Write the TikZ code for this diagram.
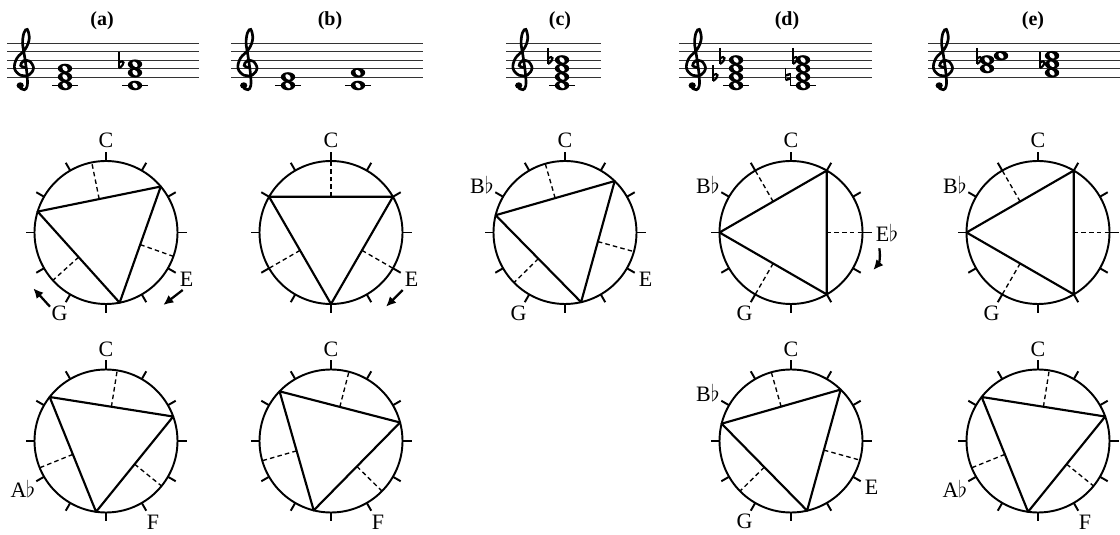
\documentclass[tikz,border=0pt]{standalone}
\usepackage{fontspec}
\setmainfont{Liberation Serif}
\usetikzlibrary{arrows.meta, calc}
\tikzset{rim/.style={line width=1.45pt},tri/.style={line width=1.6pt,line join=round},perp/.style={line width=1pt,dash pattern=on 3.4pt off 2.4pt},
  stave/.style={line width=0.65pt,black!80},pc/.style={font=\fontsize{16.5}{16.5}\selectfont,inner sep=0pt},
  title/.style={font=\fontsize{15}{15}\selectfont\bfseries,inner sep=0pt},move/.style={line width=1.7pt,-{Latex[length=7.5pt,width=7pt]}}}
% pitch-class clock: name, centre, three corner angles (clockwise from C)
\newcommand\pcclock[5]{%
  \begin{scope}[shift={#2}]
  \coordinate (#1) at (0,0);
  \draw[rim] (0,0) circle (71.5);
  \foreach \k in {0,...,11} \draw[rim] ({90-30*\k}:71.5) -- ({90-30*\k}:80.5);
  \coordinate (#1-v1) at ({90-(#3)}:71.5);
  \coordinate (#1-v2) at ({90-(#4)}:71.5);
  \coordinate (#1-v3) at ({90-(#5)}:71.5);
  \draw[perp] ($(#1-v1)!0.5!(#1-v2)$) -- ({90-(#3+#4)/2}:71.5);
  \draw[perp] ($(#1-v2)!0.5!(#1-v3)$) -- ({90-(#4+#5)/2}:71.5);
  \draw[perp] ($(#1-v3)!0.5!(#1-v1)$) -- ({90-(#5+#3+360)/2}:71.5);
  \draw[tri] (#1-v1) -- (#1-v2) -- (#1-v3) -- cycle;
  \end{scope}}
% staff pieces (step 0 = E on the bottom line)
\newcommand\stave[2]{\foreach \s in {0,...,4} \draw[stave] (#1,{458+8.5*\s}) -- (#2,{458+8.5*\s});}
\newcommand\wnote[2]{\begin{scope}[shift={(#1,{458+4.25*(#2)})}]
  \fill (0,0) ellipse (7.2 and 4.8); \fill[white,rotate=40] (0,0) ellipse (2.1 and 3.3);\end{scope}}
\newcommand\ledger[1]{\draw[stave,black,line width=0.9pt] (#1-13,449.5) -- (#1+13,449.5);}
\newcommand\flatsign[2]{\begin{scope}[shift={(#1,{458+4.25*(#2)})}]
  \draw[line width=0.9pt] (0,12) -- (0,-4);
  \draw[line width=1.6pt] (0,-4) .. controls (6.5,0) and (5.5,5.5) .. (0,1.5);\end{scope}}
\newcommand\natsign[2]{\begin{scope}[shift={(#1,{458+4.25*(#2)})}]
  \draw[line width=0.9pt] (-2.5,9) -- (-2.5,-3.5) (2.5,3.5) -- (2.5,-9);
  \draw[line width=1.8pt] (-2.5,-3) -- (2.5,-1.5) (-2.5,1.5) -- (2.5,3);\end{scope}}
\newcommand\gclef[1]{\begin{scope}[shift={(#1,466.5)},xscale=9.5,yscale=8.5]
  \draw[line width=2pt,line cap=round] plot[smooth,tension=0.6] coordinates {(0.15,0.1) (-0.35,0.35) (-0.05,0.9) (0.6,0.85) (1.0,0.05) (0.55,-0.75) (-0.35,-0.8) (-1.0,0.0) (-0.75,1.2) (0.15,2.3) (0.55,3.5) (0.35,4.6) (0.0,4.2) (-0.15,3.0) (0.05,1.5) (0.3,-0.5) (0.35,-2.0) (0.05,-2.5) (-0.4,-2.3)};
  \fill (-0.4,-2.0) circle (0.38);\end{scope}}
\newcommand\fl{$\flat$}

\begin{document}
\begin{tikzpicture}[x=0.75pt,y=0.75pt]
\useasboundingbox (0,0) rectangle (1120,535);
% titles
\node[title] (ta) at (102,514) {(a)};
\node[title] (tb) at (330,514) {(b)};
\node[title] (tc) at (560,514) {(c)};
\node[title] (td) at (787,514) {(d)};
\node[title] (te) at (1033,514) {(e)};
% staves
\stave{7}{199} \gclef{24}
\ledger{65} \wnote{65}{-2} \wnote{65}{0} \wnote{65}{2}
\flatsign{119}{3} \ledger{135} \wnote{135}{-2} \wnote{135}{1} \wnote{135}{3}
\stave{231}{423} \gclef{247.5}
\ledger{288} \wnote{288}{-2} \wnote{288}{0}
\ledger{358} \wnote{358}{-2} \wnote{358}{1}
\stave{506}{601} \gclef{522.5}
\flatsign{548}{4} \ledger{562} \wnote{562}{-2} \wnote{562}{0} \wnote{562}{2} \wnote{562}{4}
\stave{679}{872} \gclef{696}
\flatsign{713}{0} \flatsign{720}{4} \ledger{736} \wnote{736}{-2} \wnote{736}{0} \wnote{736}{2} \wnote{736}{4}
\natsign{788}{0} \flatsign{793}{4} \ledger{803} \wnote{803}{-2} \wnote{803}{0} \wnote{803}{2} \wnote{803}{4}
\stave{928}{1120} \gclef{943}
\flatsign{977}{4} \wnote{987}{2} \wnote{987}{4} \wnote{1001}{5}
\flatsign{1040}{3} \wnote{1052}{1} \wnote{1052}{3} \wnote{1052}{5}
% clocks, top row
\pcclock{a1}{(106,302.5)}{-73}{50}{169}
\pcclock{b1}{(331,302.5)}{-60}{60}{180}
\pcclock{c1}{(565,302.5)}{-76}{44}{167}
\pcclock{d1}{(791,302.5)}{-90}{30}{150}
\pcclock{e1}{(1038,302.5)}{-90}{30}{150}
% clocks, bottom row
\pcclock{a2}{(106,94)}{-52}{70}{188}
\pcclock{b2}{(331,94)}{-46}{75}{194}
\pcclock{d2}{(791,94)}{-76}{44}{167}
\pcclock{e2}{(1038,94)}{-52}{70}{188}
% note names
\node[pc] (a1C) at ($(a1)+(90:92)$) {C};
\node[pc] (a1E) at ($(a1)+(-30:93)$) {E};
\node[pc] (a1G) at ($(a1)+(-120:93)$) {G};
\node[pc] (b1C) at ($(b1)+(90:92)$) {C};
\node[pc] (b1E) at ($(b1)+(-30:93)$) {E};
\node[pc] (c1C) at ($(c1)+(90:92)$) {C};
\node[pc] (c1B) at ($(c1)+(150:96)$) {B\fl};
\node[pc] (c1E) at ($(c1)+(-30:93)$) {E};
\node[pc] (c1G) at ($(c1)+(-120:93)$) {G};
\node[pc] (d1C) at ($(d1)+(90:92)$) {C};
\node[pc] (d1B) at ($(d1)+(150:96)$) {B\fl};
\node[pc] (d1E) at ($(d1)+(0:96)$) {E\fl};
\node[pc] (d1G) at ($(d1)+(-120:93)$) {G};
\node[pc] (e1C) at ($(e1)+(90:92)$) {C};
\node[pc] (e1B) at ($(e1)+(150:96)$) {B\fl};
\node[pc] (e1G) at ($(e1)+(-120:93)$) {G};
\node[pc] (a2C) at ($(a2)+(90:92)$) {C};
\node[pc] (a2A) at ($(a2)+(-150:96)$) {A\fl};
\node[pc] (a2F) at ($(a2)+(-60:94)$) {F};
\node[pc] (b2C) at ($(b2)+(90:92)$) {C};
\node[pc] (b2F) at ($(b2)+(-60:94)$) {F};
\node[pc] (d2C) at ($(d2)+(90:92)$) {C};
\node[pc] (d2B) at ($(d2)+(150:96)$) {B\fl};
\node[pc] (d2E) at ($(d2)+(-30:93)$) {E};
\node[pc] (d2G) at ($(d2)+(-120:93)$) {G};
\node[pc] (e2C) at ($(e2)+(90:92)$) {C};
\node[pc] (e2A) at ($(e2)+(-150:96)$) {A\fl};
\node[pc] (e2F) at ($(e2)+(-60:94)$) {F};
% motion arrows
\coordinate (a1g0) at (50,228.3); \coordinate (a1g1) at (33.3,246.7);
\coordinate (a1e0) at (182.7,245); \coordinate (a1e1) at (163.3,230);
\coordinate (b1e0) at (402.7,245); \coordinate (b1e1) at (386,228.3);
\coordinate (d1e0) at (879.3,286.7); \coordinate (d1e1) at (873.3,265);
\draw[move] (a1g0) -- (a1g1);
\draw[move] (a1e0) -- (a1e1);
\draw[move] (b1e0) -- (b1e1);
\draw[move] (d1e0) to[bend left=25] (d1e1);
\end{tikzpicture}
\end{document}
